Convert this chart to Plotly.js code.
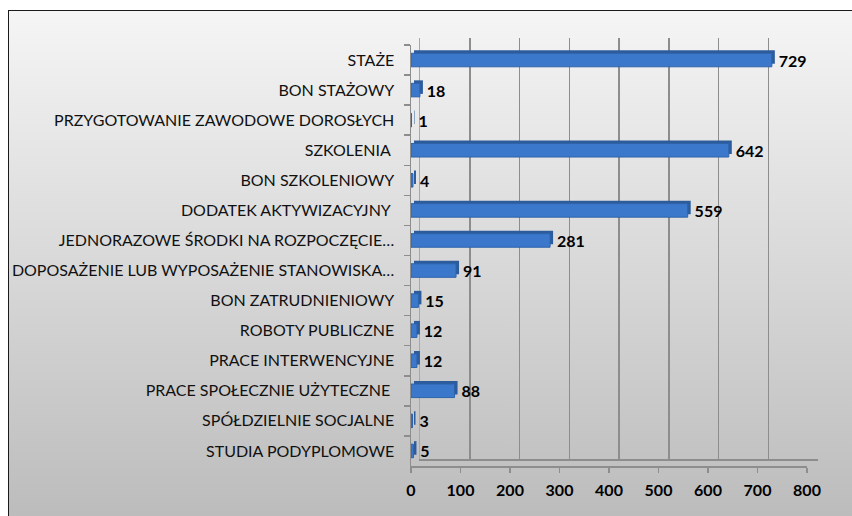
<!DOCTYPE html>
<html>
<head>
<meta charset="utf-8">
<script src="https://cdn.plot.ly/plotly-3.0.1.min.js"></script>
<style>
  html, body { margin:0; padding:0; width:852px; height:516px; overflow:hidden; background:#ffffff; }
  #frame { position:absolute; left:8px; top:10px; width:900px; height:560px;
           border-left:1.5px solid #1a1a1a; border-top:1.5px solid #1a1a1a;
           background:linear-gradient(to bottom, #f5f5f5 0px, #bcbcbc 506px); }
  #chart { position:absolute; left:0; top:0; width:852px; height:516px; }
</style>
</head>
<body>
<div id="frame"></div>
<div id="chart"></div>
<script>
const categories = [
  "STAŻE",
  "BON STAŻOWY",
  "PRZYGOTOWANIE ZAWODOWE DOROSŁYCH",
  "SZKOLENIA\u00a0",
  "BON SZKOLENIOWY",
  "DODATEK AKTYWIZACYJNY\u00a0",
  "JEDNORAZOWE ŚRODKI NA ROZPOCZĘCIE…",
  "DOPOSAŻENIE LUB WYPOSAŻENIE STANOWISKA…",
  "BON ZATRUDNIENIOWY",
  "ROBOTY PUBLICZNE",
  "PRACE INTERWENCYJNE",
  "PRACE SPOŁECZNIE UŻYTECZNE\u00a0",
  "SPÓŁDZIELNIE SOCJALNE",
  "STUDIA PODYPLOMOWE"
];
const values = [729, 18, 1, 642, 4, 559, 281, 91, 15, 12, 12, 88, 3, 5];
const xTicks = [0, 100, 200, 300, 400, 500, 600, 700, 800];

const W = 852, H = 516;
const fx = p => p / W;
const fy = p => (H - p) / H;

const FONT = "Lato, 'Open Sans', sans-serif";
const yRange = [categories.length - 0.5, -0.5];
const BARW = 0.45;

// invisible copy so that the back-wall subplot gets drawn
const wallTrace = {
  type: "bar", orientation: "h",
  x: values, y: categories,
  xaxis: "x", yaxis: "y",
  opacity: 0, hoverinfo: "skip", showlegend: false
};
const depthTrace = {
  type: "bar", orientation: "h",
  x: values, y: categories,
  xaxis: "x2", yaxis: "y2",
  width: BARW,
  marker: { color: "#2d5c9c", line: { width: 0 } },
  hoverinfo: "skip", showlegend: false
};
const mainTrace = {
  type: "bar", orientation: "h",
  x: values, y: categories,
  xaxis: "x3", yaxis: "y3",
  width: BARW,
  marker: { color: "#3b78cb", line: { color: "#2f63a9", width: 1 } },
  text: values.map(v => "\u00a0" + v),
  textposition: "outside",
  constraintext: "none",
  cliponaxis: false,
  textfont: { family: FONT, size: 16, weight: 700, color: "#000000" },
  hoverinfo: "skip", showlegend: false
};

const layout = {
  width: W, height: H,
  margin: { l: 0, r: 0, t: 0, b: 0 },
  paper_bgcolor: "rgba(0,0,0,0)",
  plot_bgcolor: "rgba(0,0,0,0)",
  font: { family: FONT, size: 16, color: "#000" },
  showlegend: false,
  // back wall (grid)
  xaxis: {
    domain: [fx(420), fx(818)], anchor: "y",
    range: [0, 800], tickvals: xTicks, showticklabels: false, ticks: "",
    showgrid: true, gridcolor: "#8d8d8d", gridwidth: 1.5,
    showline: true, linecolor: "#8d8d8d", linewidth: 1.5, zeroline: false, fixedrange: true
  },
  yaxis: {
    domain: [fy(459), fy(38)], anchor: "x",
    type: "category", categoryarray: categories, range: yRange,
    showticklabels: false, ticks: "", showgrid: false,
    showline: true, linecolor: "#a8a8a8", linewidth: 1.5, zeroline: false, fixedrange: true
  },
  // bar depth
  xaxis2: {
    domain: [fx(414), fx(810)], anchor: "y2",
    range: [0, 800], visible: false, fixedrange: true
  },
  yaxis2: {
    domain: [fy(463), fy(42)], anchor: "x2",
    type: "category", categoryarray: categories, range: yRange,
    visible: false, fixedrange: true
  },
  // front bars + axes
  xaxis3: {
    domain: [fx(411), fx(807)], anchor: "y3",
    range: [0, 800], tickvals: xTicks, ticktext: xTicks.map(String),
    showgrid: false, zeroline: false,
    ticks: "outside", ticklen: 5, tickcolor: "#8d8d8d", tickwidth: 1.5,
    showline: true, linecolor: "#8d8d8d", linewidth: 1.5,
    ticklabelstandoff: 4,
    tickfont: { family: FONT, size: 16, weight: 700, color: "#000" },
    fixedrange: true
  },
  yaxis3: {
    domain: [fy(466), fy(45)], anchor: "x3",
    type: "category", categoryarray: categories, range: yRange,
    tickson: "boundaries", ticks: "outside", ticklen: 6, tickcolor: "#8d8d8d", tickwidth: 1.5,
    showline: true, linecolor: "#8d8d8d", linewidth: 1.5,
    showgrid: false, zeroline: false,
    ticklabelstandoff: 12,
    tickfont: { family: FONT, size: 16, color: "#111" },
    fixedrange: true
  }
};

Plotly.newPlot("chart", [wallTrace, depthTrace, mainTrace], layout, { displayModeBar: false, staticPlot: true });
</script>
</body>
</html>
